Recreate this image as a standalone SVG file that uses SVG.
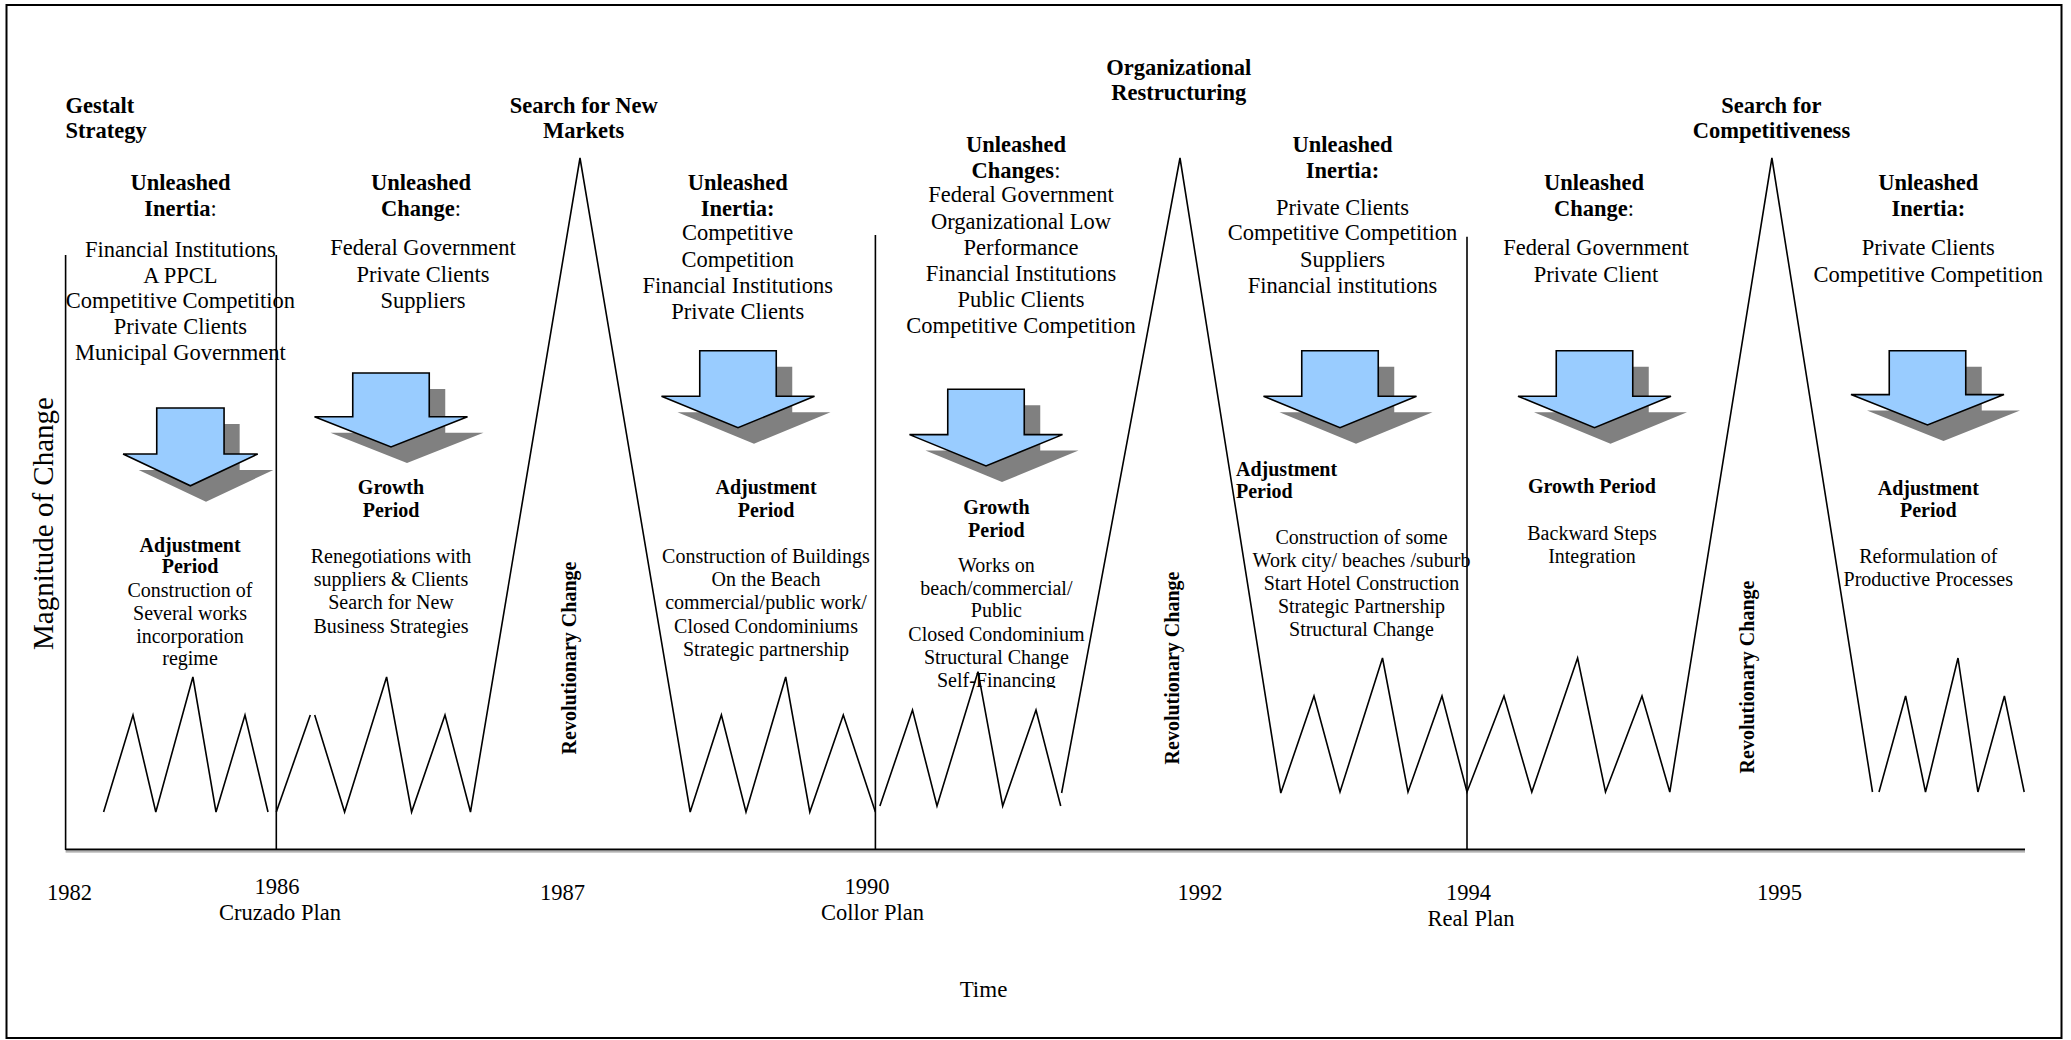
<svg xmlns="http://www.w3.org/2000/svg" xmlns:xlink="http://www.w3.org/1999/xlink" width="2071" height="1040" viewBox="0 0 2071 1040">
<style>
text{font-family:"Liberation Serif","Times New Roman",serif;fill:#000}
.h{font-size:22.5px;font-weight:bold;text-anchor:middle}
.hl{font-size:22.5px;font-weight:bold}
.l{font-size:22.5px;text-anchor:middle}
.sb{font-size:20px;font-weight:bold;text-anchor:middle}
.sbl{font-size:20px;font-weight:bold}
.s{font-size:20px;text-anchor:middle}
.rev{font-size:20px;font-weight:bold;text-anchor:middle}
.nb{font-weight:normal}
.line{fill:none;stroke:#000;stroke-width:1.6;stroke-linejoin:miter}
.sep{stroke:#000;stroke-width:1.6}
.arr{fill:#99CCFF;stroke:#000;stroke-width:1.6}
.shd{fill:#808080;stroke:none}
</style>
<defs>
<path id="arrow" d="M-38.25,0 H38.25 V45.5 H76.5 L0,77 L-76.5,45.5 H-38.25 Z" vector-effect="non-scaling-stroke"/>
<clipPath id="clipSF"><rect x="880" y="480" width="240" height="208"/></clipPath>
</defs>
<rect x="6.5" y="5" width="2055" height="1033" fill="#fff" stroke="#000" stroke-width="2"/>

<g id="axes">
<line class="sep" x1="65.6" y1="255" x2="65.6" y2="850"/>
<line x1="65.6" y1="849.5" x2="2025" y2="849.5" stroke="#000" stroke-width="2.2"/>
<line x1="65.6" y1="851.8" x2="2025" y2="851.8" stroke="#999" stroke-width="1.2"/>
<line class="sep" x1="276.3" y1="255" x2="276.3" y2="850"/>
<line class="sep" x1="875.4" y1="235" x2="875.4" y2="850"/>
<line class="sep" x1="1467" y1="236.7" x2="1467" y2="850"/>
<text style="font-size:29px" text-anchor="middle" transform="translate(52.6,523.5) rotate(-90)">Magnitude of Change</text>
<text class="l" x="983.5" y="996.7" style="font-size:23px">Time</text>
</g>

<g id="connectors">
<polyline class="line" points="103.6,812 133,715 155.8,812 192.9,677 216,812 245,715 268,812"/>
<polyline class="line" points="276.3,812 310.3,715"/>
<polyline class="line" points="314.7,715 344.6,812 386.6,677 411.6,812 445,715 470.5,812 580,158 690.2,812 721.4,715 746,812 785.7,677 809.8,812 843.3,715 875.4,812"/>
<polyline class="line" points="879.9,806 912.5,710 937,806 978,671.7 1002.7,806 1036,710 1060.7,806"/>
<polyline class="line" points="1061.6,793 1180,158 1280.8,793 1314,696 1340,792 1382.5,658 1408,792 1442,696 1467,792 1504,696 1531.8,792 1577.6,658 1605.5,792 1642,696 1669.8,792 1771.9,158 1872.5,792"/>
<polyline class="line" points="1879,792 1905.6,696 1925.5,792 1958,658 1977.9,792 2004.4,696 2024.2,792"/>
</g>

<g id="headings">
<text class="hl" x="65.6" y="113">Gestalt</text>
<text class="hl" x="65.6" y="138">Strategy</text>
<text class="h" x="583.7" y="113">Search for New</text>
<text class="h" x="583.7" y="138">Markets</text>
<text class="h" x="1178.8" y="75">Organizational</text>
<text class="h" x="1178.8" y="100">Restructuring</text>
<text class="h" x="1771.4" y="113">Search for</text>
<text class="h" x="1771.4" y="138">Competitiveness</text>
</g>

<g id="period-1982">
<text class="h" x="180.6" y="190">Unleashed</text>
<text class="h" x="180.6" y="216">Inertia<tspan class="nb">:</tspan></text>
<text class="l" x="180.4" y="257">Financial Institutions</text>
<text class="l" x="180.4" y="282.5">A PPCL</text>
<text class="l" x="180.4" y="308">Competitive Competition</text>
<text class="l" x="180.4" y="334">Private Clients</text>
<text class="l" x="180.4" y="360">Municipal Government</text>
<use href="#arrow" class="shd" transform="translate(206,424) scale(0.88,1.01)"/>
<use href="#arrow" class="arr" transform="translate(190.4,408) scale(0.88,1.01)"/>
<text class="sb" x="190" y="551.7">Adjustment</text>
<text class="sb" x="190" y="573.3">Period</text>
<text class="s" x="190" y="597.3">Construction of</text>
<text class="s" x="190" y="620">Several works</text>
<text class="s" x="190" y="643.3">incorporation</text>
<text class="s" x="190" y="665">regime</text>
<text class="l" x="69.6" y="900">1982</text>
</g>

<g id="period-1986">
<text class="h" x="421" y="190">Unleashed</text>
<text class="h" x="421" y="216">Change<tspan class="nb">:</tspan></text>
<text class="l" x="423" y="255">Federal Government</text>
<text class="l" x="423" y="281.5">Private Clients</text>
<text class="l" x="423" y="308">Suppliers</text>
<use href="#arrow" class="shd" transform="translate(407,389) scale(1,0.96)"/>
<use href="#arrow" class="arr" transform="translate(391,373) scale(1,0.96)"/>
<text class="sb" x="391" y="494.3">Growth</text>
<text class="sb" x="391" y="516.7">Period</text>
<text class="s" x="391" y="563.3">Renegotiations with</text>
<text class="s" x="391" y="586">suppliers &amp; Clients</text>
<text class="s" x="391" y="609.3">Search for New</text>
<text class="s" x="391" y="632.7">Business Strategies</text>
<text class="l" x="277" y="894">1986</text>
<text class="l" x="280" y="920">Cruzado Plan</text>
</g>

<g id="revolution-1987">
<text class="rev" transform="translate(576,658) rotate(-90)">Revolutionary Change</text>
<text class="l" x="562.6" y="900">1987</text>
</g>

<g id="period-1987">
<text class="h" x="737.7" y="190">Unleashed</text>
<text class="h" x="737.7" y="216">Inertia:</text>
<text class="l" x="737.7" y="240">Competitive</text>
<text class="l" x="737.7" y="266.5">Competition</text>
<text class="l" x="737.7" y="292.5">Financial Institutions</text>
<text class="l" x="737.7" y="319">Private Clients</text>
<use href="#arrow" class="shd" transform="translate(754,366.7)"/>
<use href="#arrow" class="arr" transform="translate(738,350.7)"/>
<text class="sb" x="766" y="494">Adjustment</text>
<text class="sb" x="766" y="516.7">Period</text>
<text class="s" x="766" y="563.3">Construction of Buildings</text>
<text class="s" x="766" y="586">On the Beach</text>
<text class="s" x="766" y="609.3">commercial/public work/</text>
<text class="s" x="766" y="632.7">Closed Condominiums</text>
<text class="s" x="766" y="656">Strategic partnership</text>
</g>

<g id="period-1990">
<text class="h" x="1016" y="151.7">Unleashed</text>
<text class="h" x="1016" y="177.7">Changes<tspan class="nb">:</tspan></text>
<text class="l" x="1021" y="202">Federal Government</text>
<text class="l" x="1021" y="228.5">Organizational Low</text>
<text class="l" x="1021" y="254.5">Performance</text>
<text class="l" x="1021" y="281">Financial Institutions</text>
<text class="l" x="1021" y="307">Public Clients</text>
<text class="l" x="1021" y="333">Competitive Competition</text>
<use href="#arrow" class="shd" transform="translate(1002,405.3) scale(1,0.996)"/>
<use href="#arrow" class="arr" transform="translate(986,389.3) scale(1,0.996)"/>
<text class="sb" x="996.4" y="514.3">Growth</text>
<text class="sb" x="996.4" y="536.7">Period</text>
<text class="s" x="996.4" y="571.7">Works on</text>
<text class="s" x="996.4" y="595">beach/commercial/</text>
<text class="s" x="996.4" y="617.3">Public</text>
<text class="s" x="996.4" y="640.7">Closed Condominium</text>
<text class="s" x="996.4" y="664.3">Structural Change</text>
<text class="s" x="996.4" y="687" clip-path="url(#clipSF)">Self-Financing</text>
<text class="l" x="867" y="894">1990</text>
<text class="l" x="872.5" y="920">Collor Plan</text>
</g>

<g id="revolution-1992">
<text class="rev" transform="translate(1179,668) rotate(-90)">Revolutionary Change</text>
<text class="l" x="1200" y="900">1992</text>
</g>

<g id="period-1992">
<text class="h" x="1342.5" y="151.7">Unleashed</text>
<text class="h" x="1342.5" y="177.7">Inertia:</text>
<text class="l" x="1342.5" y="215">Private Clients</text>
<text class="l" x="1342.5" y="240">Competitive Competition</text>
<text class="l" x="1342.5" y="266.5">Suppliers</text>
<text class="l" x="1342.5" y="292.5">Financial institutions</text>
<use href="#arrow" class="shd" transform="translate(1356,366.7)"/>
<use href="#arrow" class="arr" transform="translate(1340,350.7)"/>
<text class="sbl" x="1236" y="476">Adjustment</text>
<text class="sbl" x="1236" y="497.7">Period</text>
<text class="s" x="1361.5" y="544">Construction of some</text>
<text class="s" x="1361.5" y="566.7">Work city/ beaches /suburb</text>
<text class="s" x="1361.5" y="590">Start Hotel Construction</text>
<text class="s" x="1361.5" y="613.3">Strategic Partnership</text>
<text class="s" x="1361.5" y="636">Structural Change</text>
</g>

<g id="period-1994">
<text class="h" x="1594" y="190">Unleashed</text>
<text class="h" x="1594" y="216">Change<tspan class="nb">:</tspan></text>
<text class="l" x="1596" y="255">Federal Government</text>
<text class="l" x="1596" y="281.5">Private Client</text>
<use href="#arrow" class="shd" transform="translate(1610.5,366.7)"/>
<use href="#arrow" class="arr" transform="translate(1594.5,350.7)"/>
<text class="sb" x="1592" y="493.3">Growth Period</text>
<text class="s" x="1592" y="540">Backward Steps</text>
<text class="s" x="1592" y="563.3">Integration</text>
<text class="l" x="1468.4" y="900">1994</text>
<text class="l" x="1471" y="926">Real Plan</text>
</g>

<g id="revolution-1995">
<text class="rev" transform="translate(1754,677) rotate(-90)">Revolutionary Change</text>
<text class="l" x="1779.5" y="900">1995</text>
</g>

<g id="period-1995">
<text class="h" x="1928.3" y="190">Unleashed</text>
<text class="h" x="1928.3" y="216">Inertia:</text>
<text class="l" x="1928.3" y="255">Private Clients</text>
<text class="l" x="1928.3" y="281.5">Competitive Competition</text>
<use href="#arrow" class="shd" transform="translate(1943.5,366.7) scale(1,0.965)"/>
<use href="#arrow" class="arr" transform="translate(1927.5,350.7) scale(1,0.965)"/>
<text class="sb" x="1928.3" y="495">Adjustment</text>
<text class="sb" x="1928.3" y="517.3">Period</text>
<text class="s" x="1928.3" y="563.3">Reformulation of</text>
<text class="s" x="1928.3" y="586">Productive Processes</text>
</g>
</svg>
